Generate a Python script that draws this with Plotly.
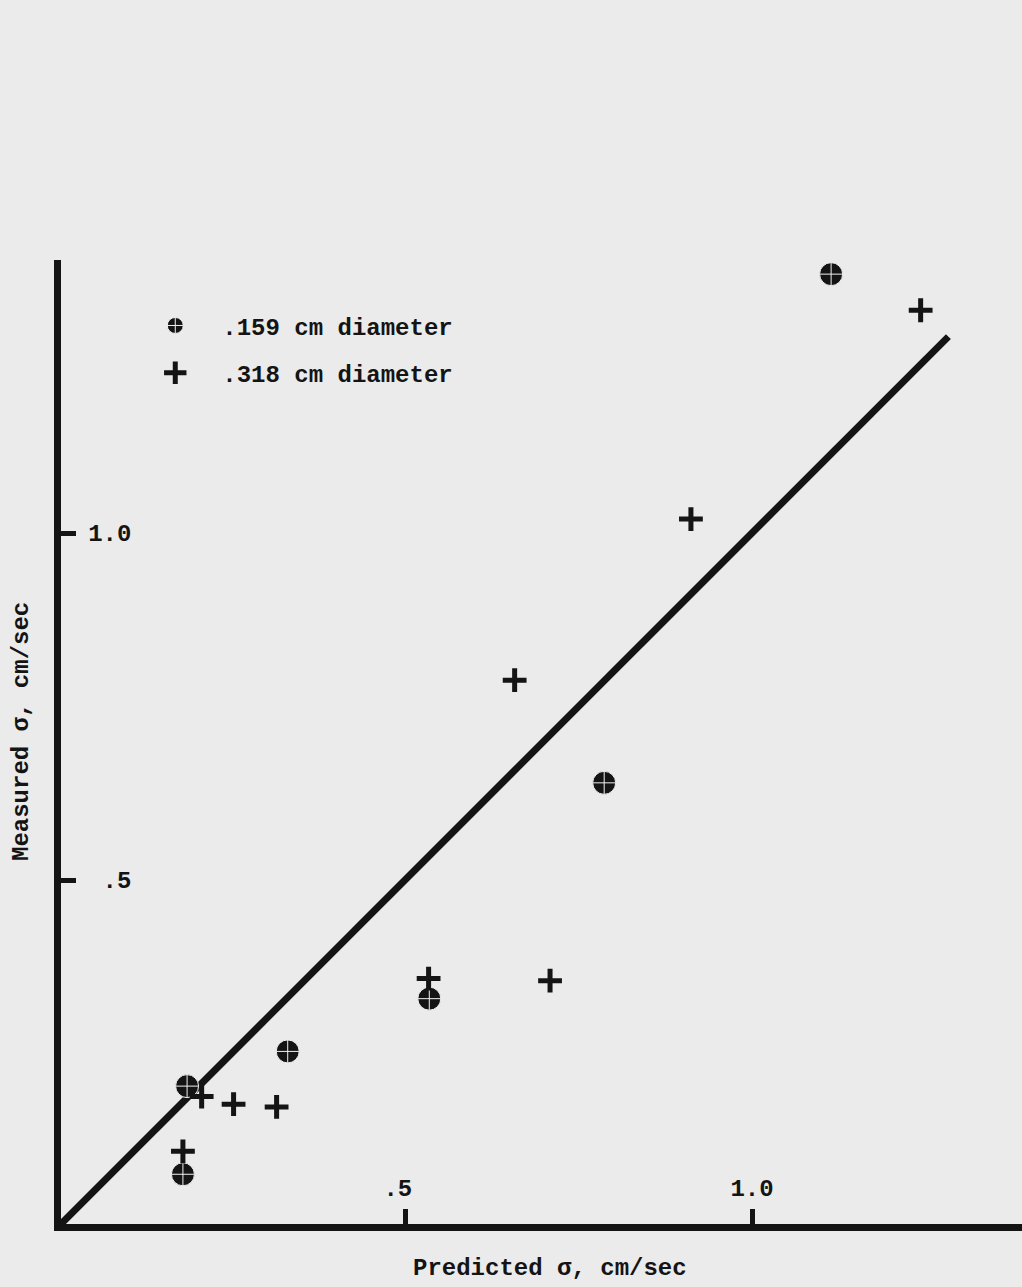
import plotly.graph_objects as go

# data (predicted sigma, measured sigma), cm/sec
small_pred = [0.186, 0.180, 0.331, 0.535, 0.787, 1.114]
small_meas = [0.203, 0.076, 0.253, 0.329, 0.640, 1.373]

large_pred = [0.207, 0.253, 0.315, 0.180, 0.534, 0.709, 0.658, 0.912, 1.243]
large_meas = [0.188, 0.177, 0.173, 0.109, 0.358, 0.355, 0.788, 1.020, 1.321]

line_x = [0.0, 1.283]
line_y = [0.0, 1.283]

tick_vals = [0.5, 1.0]
x_tick_text = [".5\u00a0", "1.0"]
y_tick_text = ["\u00a0.5", "1.0"]

x_title = "Predicted σ, cm/sec"
y_title = "Measured σ, cm/sec"

FONT = "Liberation Mono"
INK = "#141414"
BG = "#ebebeb"
PX = 694.0  # pixels per unit

fig = go.Figure()
fig.add_trace(go.Scatter(x=line_x, y=line_y, mode="lines",
                         line=dict(color=INK, width=7), showlegend=False,
                         hoverinfo="skip"))
fig.add_trace(go.Scatter(x=small_pred, y=small_meas, mode="markers",
                         name=".159 cm diameter", legendgroup="a",
                         marker=dict(symbol="circle-cross", size=23, color=INK,
                                     line=dict(color="#f2f2f2", width=1))))
fig.add_trace(go.Scatter(x=large_pred, y=large_meas, mode="markers",
                         name=".318 cm diameter", legendgroup="b",
                         marker=dict(symbol="cross-thin", size=17, color=INK,
                                     line=dict(color=INK, width=5))))

bold = dict(family=FONT, size=24, color=INK, weight="bold")

fig.update_layout(
    width=1022, height=1287,
    margin=dict(l=61, r=0, t=260, b=63),
    paper_bgcolor=BG, plot_bgcolor=BG,
    font=bold,
    showlegend=True,
    legend=dict(x=0.07, y=0.955, xanchor="left", yanchor="top",
                bgcolor="rgba(0,0,0,0)", tracegroupgap=13, itemwidth=84,
                font=bold),
    xaxis=dict(range=[3/PX, 964/PX], showgrid=False, zeroline=False,
               showline=True, linecolor=INK, linewidth=7,
               tickvals=tick_vals, ticktext=x_tick_text, tickfont=bold,
               ticks="inside", ticklen=15, tickwidth=5, tickcolor=INK,
               ticklabelposition="inside", ticklabelstandoff=10),
    yaxis=dict(range=[3/PX, 967/PX], showgrid=False, zeroline=False,
               showline=True, linecolor=INK, linewidth=7,
               tickvals=tick_vals, ticktext=y_tick_text, tickfont=bold,
               ticks="inside", ticklen=15, tickwidth=5, tickcolor=INK,
               ticklabelposition="inside", ticklabelstandoff=14),
    annotations=[
        dict(text=x_title, xref="paper", yref="paper",
             x=(550 - 61) / 961, y=(1224 - 1268) / 964,
             xanchor="center", yanchor="middle", showarrow=False, font=bold),
        dict(text=y_title, xref="paper", yref="paper", textangle=-90,
             x=(21 - 61) / 961, y=(1224 - 732) / 964,
             xanchor="center", yanchor="middle", showarrow=False, font=bold),
    ],
)

fig.write_html("out.html")
